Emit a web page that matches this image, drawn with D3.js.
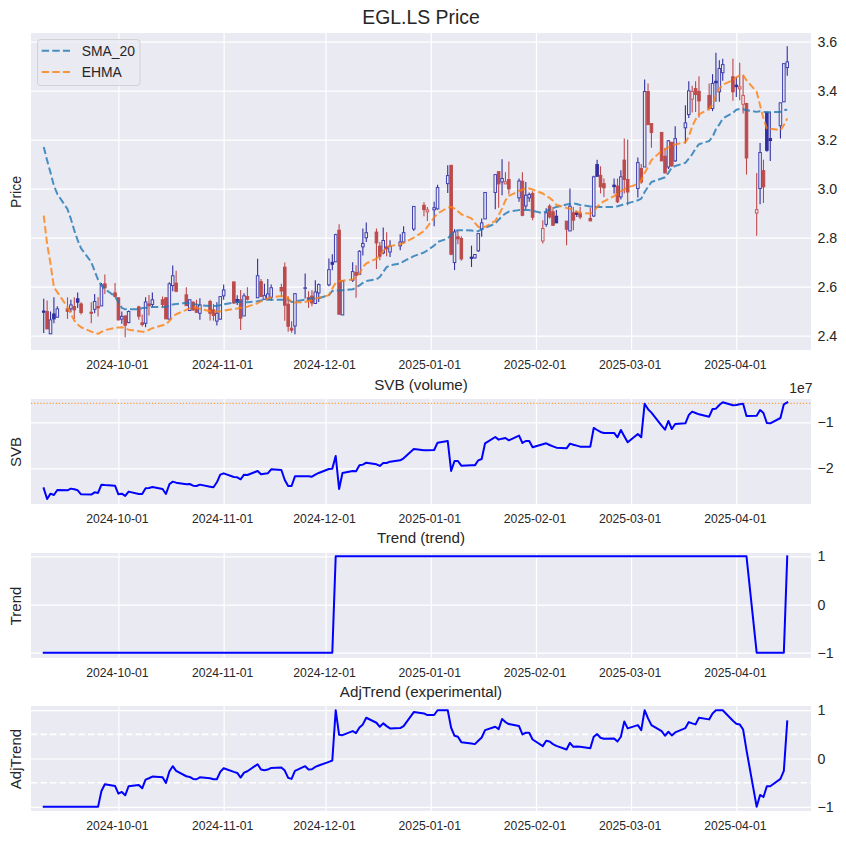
<!DOCTYPE html>
<html><head><meta charset="utf-8">
<script src="https://cdn.jsdelivr.net/npm/d3@7"></script>
<style>
html,body{margin:0;padding:0;background:#fff}
svg{display:block}
text{font-family:"Liberation Sans",Arial,sans-serif;fill:#262626}
</style></head><body><div id="c"></div>
<script>
const dates=[
"2024-09-09","2024-09-10","2024-09-11","2024-09-12","2024-09-13","2024-09-16","2024-09-17","2024-09-18","2024-09-19","2024-09-20","2024-09-23","2024-09-24","2024-09-25","2024-09-26","2024-09-27","2024-09-30",
"2024-10-01","2024-10-02","2024-10-03","2024-10-04","2024-10-07","2024-10-08","2024-10-09","2024-10-10","2024-10-11","2024-10-14","2024-10-15","2024-10-16","2024-10-17","2024-10-18","2024-10-21","2024-10-22","2024-10-23","2024-10-24","2024-10-25","2024-10-28","2024-10-29","2024-10-30","2024-10-31",
"2024-11-01","2024-11-04","2024-11-05","2024-11-06","2024-11-07","2024-11-08","2024-11-11","2024-11-12","2024-11-13","2024-11-14","2024-11-15","2024-11-18","2024-11-19","2024-11-20","2024-11-21","2024-11-22","2024-11-25","2024-11-26","2024-11-27","2024-11-28","2024-11-29",
"2024-12-02","2024-12-03","2024-12-04","2024-12-05","2024-12-06","2024-12-09","2024-12-10","2024-12-11","2024-12-12","2024-12-13","2024-12-16","2024-12-17","2024-12-18","2024-12-19","2024-12-20","2024-12-23","2024-12-24","2024-12-27","2024-12-30","2024-12-31",
"2025-01-02","2025-01-03","2025-01-06","2025-01-07","2025-01-08","2025-01-09","2025-01-10","2025-01-13","2025-01-14","2025-01-15","2025-01-16","2025-01-17","2025-01-20","2025-01-21","2025-01-22","2025-01-23","2025-01-24","2025-01-27","2025-01-28","2025-01-29","2025-01-30","2025-01-31",
"2025-02-03","2025-02-04","2025-02-05","2025-02-06","2025-02-07","2025-02-10","2025-02-11","2025-02-12","2025-02-13","2025-02-14","2025-02-17","2025-02-18","2025-02-19","2025-02-20","2025-02-21","2025-02-24","2025-02-25","2025-02-26","2025-02-27","2025-02-28",
"2025-03-03","2025-03-04","2025-03-05","2025-03-06","2025-03-07","2025-03-10","2025-03-11","2025-03-12","2025-03-13","2025-03-14","2025-03-17","2025-03-18","2025-03-19","2025-03-20","2025-03-21","2025-03-24","2025-03-25","2025-03-26","2025-03-27","2025-03-28","2025-03-31",
"2025-04-01","2025-04-02","2025-04-03","2025-04-04","2025-04-07","2025-04-08","2025-04-09","2025-04-10","2025-04-11","2025-04-14","2025-04-15","2025-04-16"];
const opens=[
2.50,2.498,2.407,2.488,2.475,2.509,2.509,2.518,2.55,2.529,2.495,2.507,2.518,2.521,2.611,2.574,
2.554,2.467,2.48,2.453,2.517,2.452,2.45,2.529,2.527,2.546,2.554,2.467,2.604,2.614,2.566,2.502,2.536,2.516,2.491,2.539,2.505,2.459,2.467,
2.562,2.619,2.547,2.546,2.48,2.559,2.554,2.62,2.548,2.548,2.556,2.596,2.679,2.528,2.43,2.439,2.593,2.555,2.561,2.531,2.574,
2.607,2.699,2.701,2.83,2.484,2.626,2.657,2.65,2.762,2.799,2.822,2.765,2.737,2.762,2.741,2.766,2.782,2.835,2.932,2.905,
2.913,2.917,3.02,3.095,2.698,2.803,2.796,2.72,2.717,2.746,2.835,2.876,2.984,3.069,3.027,3.019,3.037,2.962,3.03,2.929,2.962,2.98,
2.786,2.854,2.928,2.905,2.887,2.867,2.827,2.901,2.901,2.898,2.878,2.888,3.098,3.054,3.02,3.014,3.01,2.966,3.116,3.037,
3.0,3.082,3.088,3.396,3.265,3.229,3.132,3.088,3.189,3.113,3.248,3.302,3.365,3.408,3.397,3.38,3.327,3.438,3.395,3.473,3.456,
3.422,3.407,3.344,3.347,2.9,3.0,3.073,3.309,3.204,3.256,3.354,3.494];
const highs=[
2.55,2.543,2.498,2.556,2.52,2.556,2.546,2.556,2.576,2.536,2.536,2.57,2.556,2.614,2.649,2.614,
2.556,2.498,2.482,2.502,2.522,2.486,2.556,2.566,2.576,2.559,2.556,2.618,2.686,2.665,2.597,2.546,2.54,2.546,2.552,2.546,2.529,2.536,2.559,
2.608,2.619,2.565,2.586,2.573,2.597,2.713,2.631,2.611,2.631,2.608,2.611,2.698,2.56,2.458,2.574,2.653,2.581,2.585,2.626,2.612,
2.714,2.732,2.816,2.854,2.626,2.699,2.687,2.748,2.837,2.861,2.837,2.782,2.841,2.822,2.789,2.814,2.846,2.928,2.944,2.925,
2.946,3.016,3.095,3.095,2.834,2.827,2.805,2.767,2.733,2.816,2.878,2.984,3.057,3.069,3.12,3.067,3.11,3.041,3.067,3.027,2.984,2.989,
2.871,2.92,2.936,2.925,2.912,2.867,3.0,2.925,2.909,2.925,2.922,3.052,3.118,3.091,3.041,3.041,3.041,3.075,3.204,3.2,
3.127,3.1,3.445,3.429,3.265,3.229,3.167,3.198,3.19,3.254,3.34,3.438,3.42,3.438,3.458,3.429,3.467,3.554,3.524,3.53,3.53,
3.456,3.514,3.463,3.35,3.064,3.186,3.118,3.313,3.313,3.35,3.51,3.581];
const lows=[
2.41,2.427,2.407,2.45,2.475,2.468,2.495,2.468,2.512,2.486,2.45,2.491,2.478,2.521,2.57,2.556,
2.461,2.448,2.393,2.45,2.464,2.437,2.434,2.482,2.516,2.516,2.468,2.467,2.581,2.577,2.522,2.50,2.50,2.492,2.464,2.461,2.461,2.441,2.464,
2.546,2.529,2.525,2.423,2.48,2.543,2.554,2.556,2.548,2.548,2.543,2.556,2.46,2.415,2.411,2.405,2.551,2.513,2.52,2.531,2.537,
2.601,2.667,2.701,2.487,2.484,2.619,2.554,2.65,2.727,2.782,2.672,2.707,2.732,2.724,2.721,2.748,2.776,2.827,2.887,2.868,
2.846,2.914,2.982,2.728,2.667,2.773,2.705,2.68,2.715,2.741,2.803,2.876,2.916,2.922,2.973,3.019,2.977,2.946,2.887,2.916,2.946,2.871,
2.776,2.844,2.878,2.85,2.86,2.769,2.827,2.83,2.884,2.875,2.868,2.884,3.05,2.98,2.966,2.98,2.941,2.955,2.98,2.932,
2.963,3.02,3.088,3.261,3.167,3.113,3.061,3.08,3.088,3.109,3.184,3.288,3.31,3.313,3.29,3.32,3.316,3.354,3.354,3.44,3.358,
3.374,3.36,3.306,3.057,2.807,2.936,2.941,3.15,3.113,3.204,3.354,3.46];
const closes=[
2.495,2.427,2.464,2.468,2.509,2.499,2.525,2.505,2.536,2.494,2.491,2.539,2.513,2.607,2.595,2.56,
2.464,2.478,2.442,2.498,2.479,2.445,2.537,2.522,2.546,2.527,2.468,2.611,2.644,2.581,2.522,2.546,2.505,2.495,2.525,2.491,2.482,2.491,2.559,
2.586,2.533,2.535,2.471,2.562,2.548,2.644,2.56,2.563,2.57,2.595,2.582,2.524,2.438,2.422,2.571,2.595,2.544,2.533,2.578,2.608,
2.669,2.691,2.812,2.487,2.623,2.661,2.646,2.744,2.776,2.82,2.778,2.724,2.788,2.754,2.765,2.782,2.82,2.927,2.914,2.913,
2.922,3.004,3.053,2.732,2.823,2.795,2.713,2.715,2.731,2.816,2.86,2.984,3.057,3.019,3.041,3.028,2.999,3.031,2.891,2.973,2.976,2.883,
2.837,2.901,2.884,2.85,2.86,2.834,2.928,2.871,2.895,2.884,2.868,3.048,3.05,3.007,3.003,3.008,2.946,3.048,3.037,2.986,
3.106,3.027,3.396,3.261,3.229,3.113,3.064,3.195,3.093,3.204,3.268,3.399,3.396,3.384,3.358,3.327,3.429,3.432,3.49,3.506,3.395,
3.416,3.415,3.38,3.125,2.914,3.147,3.007,3.156,3.196,3.35,3.51,3.517];
const sma20=[
3.17,3.115,3.065,3.012,2.978,2.916,2.876,2.829,2.789,2.756,2.7,2.663,2.628,2.604,2.59,2.56,
2.536,2.513,2.507,2.507,2.507,2.512,2.513,2.516,2.517,2.516,2.518,2.521,2.527,2.529,2.533,2.532,2.529,2.527,2.524,2.521,2.521,2.522,2.524,
2.527,2.535,2.537,2.537,2.536,2.536,2.54,2.543,2.546,2.546,2.546,2.546,2.546,2.546,2.537,2.539,2.547,2.55,2.551,2.551,2.552,
2.565,2.582,2.584,2.584,2.585,2.589,2.596,2.605,2.615,2.623,2.63,2.639,2.66,2.679,2.687,2.694,2.703,2.724,2.739,2.748,
2.767,2.782,2.796,2.812,2.826,2.83,2.83,2.829,2.826,2.826,2.833,2.839,2.857,2.873,2.887,2.898,2.906,2.912,2.912,2.913,2.912,2.909,
2.9,2.907,2.916,2.92,2.925,2.935,2.937,2.939,2.937,2.933,2.927,2.925,2.925,2.925,2.925,2.925,2.928,2.932,2.936,2.94,
2.952,2.959,2.986,3.007,3.027,3.041,3.046,3.064,3.086,3.092,3.105,3.122,3.14,3.163,3.181,3.194,3.211,3.242,3.262,3.286,3.309,
3.322,3.325,3.324,3.32,3.313,3.316,3.313,3.313,3.312,3.313,3.32,3.322];
const ehma=[
2.89,2.774,2.693,2.597,2.577,2.516,2.488,2.461,2.445,2.434,2.416,2.411,2.407,2.415,2.422,2.431,
2.433,2.434,2.429,2.424,2.418,2.416,2.416,2.423,2.43,2.442,2.446,2.459,2.478,2.487,2.505,2.512,2.516,2.513,2.509,2.499,2.498,2.498,2.498,
2.501,2.509,2.51,2.513,2.516,2.518,2.532,2.54,2.546,2.551,2.556,2.561,2.563,2.551,2.537,2.535,2.537,2.541,2.544,2.551,2.554,
2.565,2.592,2.615,2.622,2.624,2.629,2.639,2.653,2.68,2.694,2.714,2.728,2.746,2.759,2.765,2.773,2.778,2.8,2.826,2.844,
2.882,2.898,2.922,2.925,2.918,2.907,2.895,2.878,2.86,2.844,2.838,2.844,2.868,2.891,2.918,2.952,2.97,2.99,2.996,3.0,3.0,2.996,
2.98,2.97,2.962,2.95,2.933,2.921,2.918,2.912,2.905,2.901,2.898,2.905,2.925,2.939,2.948,2.969,2.98,2.989,2.997,3.005,
3.018,3.034,3.064,3.088,3.116,3.154,3.159,3.169,3.174,3.18,3.189,3.211,3.254,3.282,3.303,3.325,3.344,3.381,3.408,3.424,3.442,
3.453,3.463,3.463,3.442,3.395,3.34,3.286,3.245,3.244,3.238,3.259,3.286];
const svbE7=[
-2.435,-2.667,-2.551,-2.58,-2.471,-2.478,-2.442,-2.457,-2.478,-2.565,-2.572,-2.522,-2.536,-2.355,-2.362,-2.377,
-2.565,-2.551,-2.601,-2.507,-2.558,-2.558,-2.435,-2.428,-2.406,-2.449,-2.558,-2.348,-2.29,-2.312,-2.348,-2.341,-2.377,-2.384,-2.355,-2.399,-2.413,-2.304,-2.138,
-2.109,-2.188,-2.196,-2.239,-2.138,-2.145,-2.058,-2.13,-2.116,-2.109,-2.022,-2.036,-2.254,-2.384,-2.384,-2.174,-2.174,-2.174,-2.181,-2.138,-2.101,
-2.014,-2.007,-1.732,-2.449,-2.101,-2.058,-2.065,-1.935,-1.92,-1.877,-1.913,-1.949,-1.884,-1.884,-1.855,-1.826,-1.783,-1.58,-1.609,-1.609,
-1.601,-1.442,-1.406,-2.058,-1.841,-1.841,-1.942,-1.935,-1.935,-1.826,-1.797,-1.457,-1.319,-1.377,-1.355,-1.341,-1.391,-1.29,-1.449,-1.406,-1.406,-1.543,
-1.478,-1.457,-1.493,-1.522,-1.551,-1.565,-1.464,-1.486,-1.507,-1.529,-1.529,-1.123,-1.167,-1.21,-1.232,-1.232,-1.326,-1.167,-1.304,-1.435,
-1.254,-1.326,-0.594,-0.717,-0.79,-1.072,-1.159,-0.971,-1.145,-1.036,-1.022,-0.841,-0.768,-0.797,-0.826,-0.877,-0.71,-0.703,-0.623,-0.565,-0.63,
-0.623,-0.609,-0.594,-0.862,-0.855,-0.732,-0.797,-1.014,-1.022,-0.906,-0.609,-0.565];
const trend=[
-1,-1,-1,-1,-1,-1,-1,-1,-1,-1,-1,-1,-1,-1,-1,-1,
-1,-1,-1,-1,-1,-1,-1,-1,-1,-1,-1,-1,-1,-1,-1,-1,-1,-1,-1,-1,-1,-1,-1,
-1,-1,-1,-1,-1,-1,-1,-1,-1,-1,-1,-1,-1,-1,-1,-1,-1,-1,-1,-1,-1,
-1,-1,1,1,1,1,1,1,1,1,1,1,1,1,1,1,1,1,1,1,
1,1,1,1,1,1,1,1,1,1,1,1,1,1,1,1,1,1,1,1,1,1,
1,1,1,1,1,1,1,1,1,1,1,1,1,1,1,1,1,1,1,1,
1,1,1,1,1,1,1,1,1,1,1,1,1,1,1,1,1,1,1,1,1,
1,1,1,1,-1,-1,-1,-1,-1,-1,-1,1];
const adjTrend=[
-1,-1,-1,-1,-1,-1,-1,-1,-1,-1,-1,-1,-1,-0.671,-0.533,-0.567,
-0.727,-0.692,-0.761,-0.574,-0.547,-0.616,-0.436,-0.408,-0.374,-0.388,-0.505,-0.27,-0.159,-0.256,-0.367,-0.381,-0.422,-0.429,-0.388,-0.408,-0.429,-0.429,-0.277,
-0.201,-0.277,-0.298,-0.394,-0.291,-0.263,-0.118,-0.228,-0.242,-0.228,-0.194,-0.187,-0.249,-0.401,-0.422,-0.256,-0.159,-0.228,-0.221,-0.173,-0.145,
-0.069,-0.042,1.0,0.491,0.484,0.567,0.526,0.644,0.706,0.844,0.74,0.657,0.727,0.671,0.623,0.63,0.671,0.962,0.934,0.9,
0.9,1.0,1.0,0.637,0.471,0.45,0.339,0.311,0.298,0.367,0.436,0.588,0.657,0.609,0.817,0.754,0.713,0.671,0.498,0.533,0.533,0.394,
0.256,0.367,0.353,0.298,0.263,0.187,0.325,0.242,0.249,0.242,0.215,0.45,0.505,0.429,0.408,0.415,0.353,0.45,0.768,0.623,
0.692,0.588,1.0,0.83,0.692,0.567,0.471,0.554,0.478,0.54,0.63,0.754,0.727,0.706,0.844,0.81,0.934,0.997,0.997,1.0,0.782,
0.72,0.706,0.602,0.173,-1.0,-0.754,-0.796,-0.574,-0.574,-0.422,-0.256,0.768];
const xTickLabels=["2024-10-01","2024-11-01","2024-12-01","2025-01-01","2025-02-01","2025-03-01","2025-04-01"];
const priceTicks=[2.4,2.6,2.8,3.0,3.2,3.4,3.6];
const svbTicks=[-2,-1];
const trendTicks=[-1,0,1];
const svbThreshold=-0.587;
const adjBands=[-0.5,0.5];
const legendNames=["SMA_20","EHMA"];

for(const a of [opens,highs,lows,closes,sma20,ehma,svbE7,trend,adjTrend]) if(a.length!==dates.length) throw new Error("length "+a.length+" vs "+dates.length);

const W=846,H=843,L=31,R=811;
const parse=d3.utcParse("%Y-%m-%d");
const when=dates.map(parse);
const x=d3.scaleUtc().domain([new Date(Date.UTC(2024,8,5,6)),new Date(Date.UTC(2025,3,23))]).range([L,R]);
const svg=d3.select("#c").append("svg").attr("width",W).attr("height",H).attr("viewBox",`0 0 ${W} ${H}`);
const BG="#eaeaf2";
const FONT='"Liberation Sans",Arial,sans-serif';

function panel(cfg){
  const y=d3.scaleLinear().domain(cfg.domain).range([cfg.bottom,cfg.top]);
  const g=svg.append("g");
  g.append("rect").attr("x",L).attr("y",cfg.top).attr("width",R-L).attr("height",cfg.bottom-cfg.top).attr("fill",BG);
  const gx=g.append("g").attr("transform",`translate(0,${cfg.bottom})`)
    .call(d3.axisBottom(x).tickValues(xTickLabels.map(parse)).tickFormat(d3.utcFormat("%Y-%m-%d")).tickSize(-(cfg.bottom-cfg.top)).tickPadding(10.5));
  gx.select(".domain").remove();
  gx.selectAll("line").attr("stroke","#fff").attr("stroke-width",1.2);
  gx.selectAll("text").attr("font-size",12.2).attr("dx",-1.5).attr("fill","#262626").attr("font-family",FONT);
  const gy=g.append("g").attr("transform",`translate(${R},0)`)
    .call(d3.axisRight(y).tickValues(cfg.ticks).tickFormat(cfg.fmt).tickSize(-(R-L)).tickPadding(6.5));
  gy.select(".domain").remove();
  gy.selectAll("line").attr("stroke","#fff").attr("stroke-width",1.2);
  gy.selectAll("text").attr("font-size",14.2).attr("fill","#262626").attr("font-family",FONT);
  g.append("text").attr("x",421).attr("y",cfg.titleY).attr("text-anchor","middle").attr("font-size",cfg.titleSize||15.2).text(cfg.title);
  g.append("text").attr("transform",`translate(21,${cfg.labelY}) rotate(-90)`).attr("text-anchor","middle").attr("font-size",cfg.labelSize||15).text(cfg.label);
  return {g,y};
}
function drawLine(g,y,vals,stroke,w){
  return g.append("path").datum(vals).attr("fill","none").attr("stroke",stroke).attr("stroke-width",w)
    .attr("stroke-linejoin","round")
    .attr("d",d3.line().x((d,i)=>x(when[i])).y(d=>y(d)));
}

// Price panel
const p1=panel({top:33,bottom:350,domain:[2.341,3.635],ticks:priceTicks,fmt:d3.format(".1f"),title:"EGL.LS Price",titleY:23.5,titleSize:19.4,label:"Price",labelSize:14,labelY:192});
const BLUE_WICK="#2f2fa0",RED_WICK="#bd4a4b",BLUE_EDGE="#4040b0",RED_EDGE="#c95c5c";
const idx=d3.range(dates.length);
const bodyW=x(new Date(Date.UTC(2024,9,1,18)))-x(new Date(Date.UTC(2024,9,1)));
const isUp=i=>i===0||closes[i]>=closes[i-1];
const candles=p1.g.append("g");
candles.selectAll("line").data(idx).join("line")
  .attr("x1",i=>x(when[i])).attr("x2",i=>x(when[i]))
  .attr("y1",i=>p1.y(highs[i])).attr("y2",i=>p1.y(lows[i]))
  .attr("stroke",i=>isUp(i)?BLUE_WICK:RED_WICK).attr("stroke-width",1.1);
candles.selectAll("rect").data(idx).join("rect")
  .attr("x",i=>x(when[i])-bodyW/2).attr("width",bodyW)
  .attr("y",i=>p1.y(Math.max(opens[i],closes[i])))
  .attr("height",i=>Math.max(0.6,Math.abs(p1.y(opens[i])-p1.y(closes[i]))))
  .attr("fill",i=>closes[i]>=opens[i]?BG:(isUp(i)?BLUE_WICK:RED_WICK))
  .attr("stroke",i=>closes[i]>=opens[i]?(isUp(i)?BLUE_EDGE:RED_EDGE):(isUp(i)?BLUE_WICK:RED_WICK))
  .attr("stroke-width",1);
const dash="7.4,3.2";
drawLine(p1.g,p1.y,sma20,"#1f77b4",2).attr("opacity",.8).attr("stroke-dasharray",dash);
drawLine(p1.g,p1.y,ehma,"#ff7f0e",2).attr("opacity",.8).attr("stroke-dasharray",dash);
const leg=p1.g.append("g");
leg.append("rect").attr("x",37.5).attr("y",39.5).attr("width",102.5).attr("height",46).attr("rx",3)
  .attr("fill",BG).attr("fill-opacity",.8).attr("stroke","#cccccc").attr("stroke-opacity",.8);
legendNames.forEach((n,i)=>{
  const ly=[50.7,72][i];
  leg.append("line").attr("x1",41.7).attr("x2",70).attr("y1",ly).attr("y2",ly)
    .attr("stroke",["#1f77b4","#ff7f0e"][i]).attr("opacity",.8).attr("stroke-width",2).attr("stroke-dasharray",dash);
  leg.append("text").attr("x",81.7).attr("y",ly+5).attr("font-size",13.9).text(n);
});

// SVB panel
const p2=panel({top:399,bottom:504,domain:[-2.776,-0.493],ticks:svbTicks,fmt:d3.format("d"),title:"SVB (volume)",titleY:390,label:"SVB",labelY:452});
p2.g.append("line").attr("x1",L).attr("x2",R).attr("y1",p2.y(svbThreshold)).attr("y2",p2.y(svbThreshold))
  .attr("stroke","#ff8c1a").attr("stroke-width",1).attr("stroke-dasharray","1.2,1.9");
drawLine(p2.g,p2.y,svbE7,"#0000ff",2).attr("stroke-linecap","square");
p2.g.append("text").attr("x",812.5).attr("y",393).attr("text-anchor","end").attr("font-size",13.9).text("1e7");

// Trend panel
const p3=panel({top:553,bottom:658,domain:[-1.11,1.07],ticks:trendTicks,fmt:d3.format("d"),title:"Trend (trend)",titleY:543,label:"Trend",labelY:606});
drawLine(p3.g,p3.y,trend,"#0000ff",2).attr("stroke-linecap","square");

// AdjTrend panel
const p4=panel({top:706,bottom:811,domain:[-1.086,1.087],ticks:trendTicks,fmt:d3.format("d"),title:"AdjTrend (experimental)",titleY:697,label:"AdjTrend",labelY:759});
adjBands.forEach(b=>p4.g.append("line").attr("x1",L).attr("x2",R).attr("y1",p4.y(b)).attr("y2",p4.y(b))
  .attr("stroke","#fff").attr("stroke-width",1.6).attr("stroke-dasharray","6.5,3"));
drawLine(p4.g,p4.y,adjTrend,"#0000ff",2).attr("stroke-linecap","square");
</script></body></html>
